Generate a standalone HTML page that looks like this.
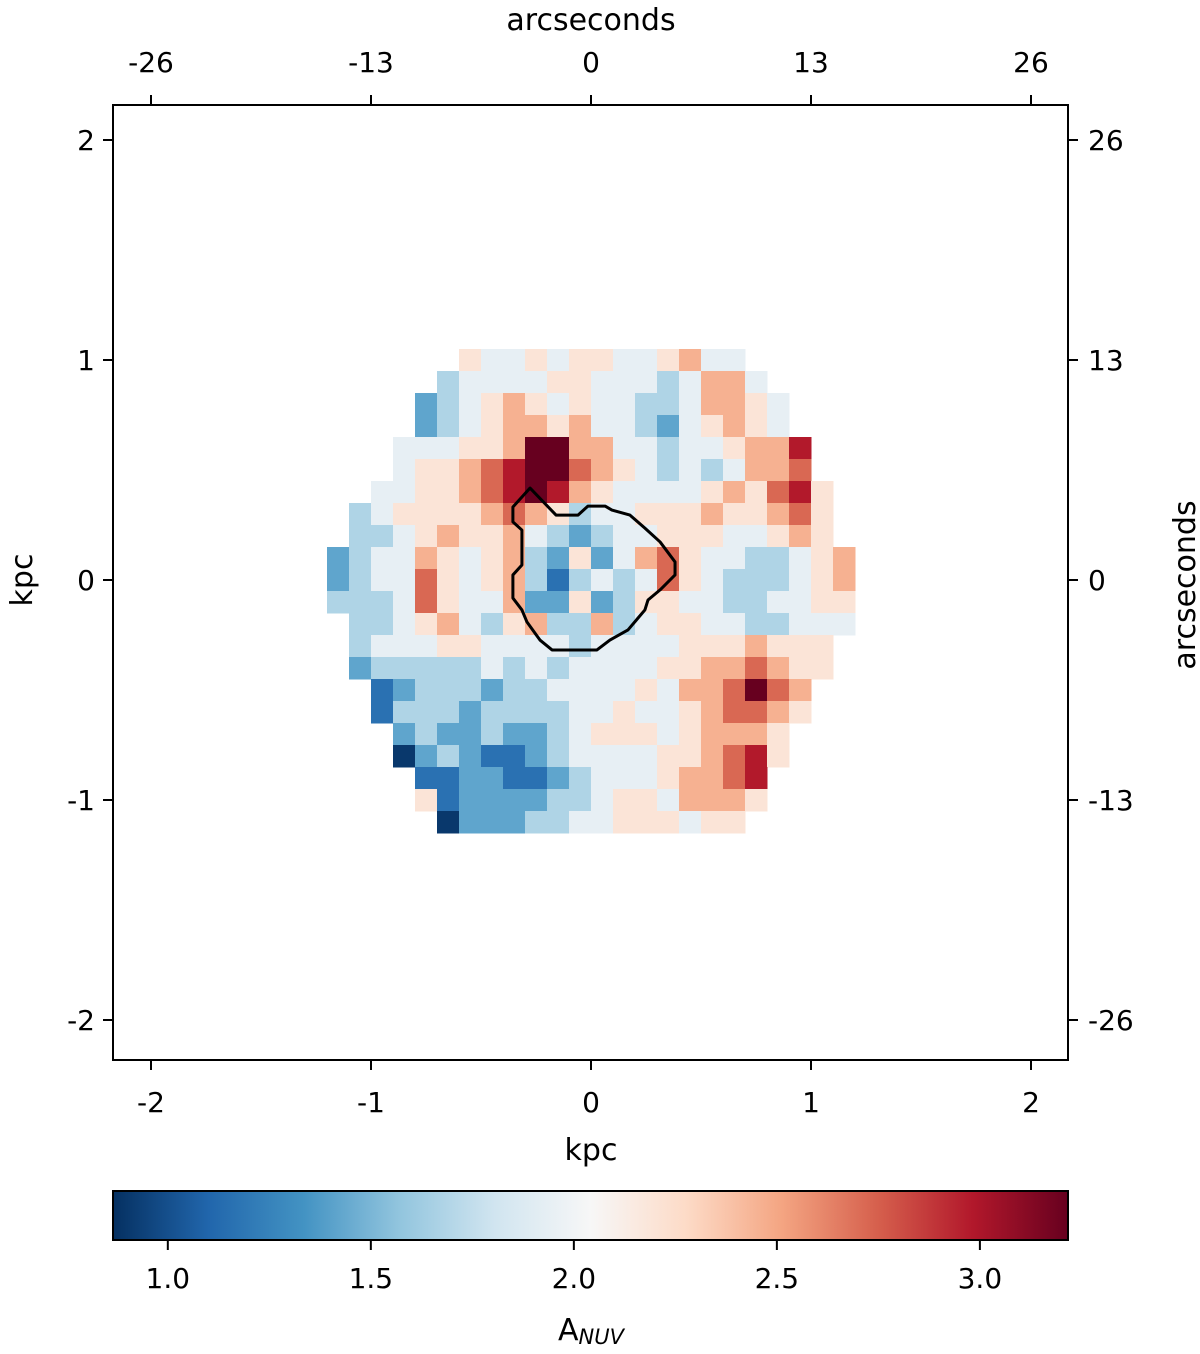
<!DOCTYPE html>
<html><head><meta charset="utf-8"><style>body{margin:0;background:#fff}svg{display:block;font-family:"DejaVu Sans","Liberation Sans",sans-serif}</style></head>
<body>
<svg id="chart" width="1200" height="1354" viewBox="0 0 1200 1354" xmlns="http://www.w3.org/2000/svg">
<g id="cells"></g>
<g id="contour"></g>
<rect x="113" y="105" width="955" height="955" fill="none" stroke="#000" stroke-width="2"/>
<g id="axes" font-size="28" fill="#000"></g>
<text x="591" y="1160" font-size="30" text-anchor="middle">kpc</text>
<text x="591" y="30" font-size="30" text-anchor="middle">arcseconds</text>
<text transform="translate(32,580) rotate(-90)" font-size="30" text-anchor="middle">kpc</text>
<text transform="translate(1195,585) rotate(-90)" font-size="30" text-anchor="middle">arcseconds</text>
<defs><linearGradient id="cmap" x1="0" x2="1" y1="0" y2="0"></linearGradient></defs>
<rect x="113" y="1191" width="955" height="49" fill="url(#cmap)" stroke="#000" stroke-width="2"/>
<g id="cbticks" font-size="28"></g>
<text x="591" y="1340" font-size="30" text-anchor="middle">A<tspan font-size="21" font-style="italic" dy="4">NUV</tspan></text>
</svg>
<script>
const cmapStops = ["#053061","#2166ac","#4393c3","#92c5de","#d1e5f0","#f7f7f7","#fddbc7","#f4a582","#d6604d","#b2182b","#67001f"];
const xTicks = [-2,-1,0,1,2];
const yTicks = [-2,-1,0,1,2];
const arcTickLabels = ["-26","-13","0","13","26"];
const cbTicks = [1.0,1.5,2.0,2.5,3.0];
const vmin = 0.865, vmax = 3.217;
const gridX0 = -1.2, gridY0 = 1.05, cellSize = 0.1;
const levelValues = [0.9,1.16,1.42,1.68,1.94,2.2,2.46,2.72,2.98,3.24];
const gridRows = [
"......5445455445644.....",
".....344445544434664....",
"....23456545443346654...",
"....23456656443245654...",
"...4445569966443445668..",
"...4556789976543434667..",
"..445567898654444565785.",
".3455556765344555655675.",
".3345655643234455544565.",
"234465456325246754433456",
"234475456313434754333456",
"333475446225235544334455",
".33456435633634554433444",
".3444554444344445556555.",
".2333334343444455667655.",
"..12333233444454667976..",
"..13332333344544567765..",
"...232232234555456665...",
"...023211234444556785...",
"....1122112344456678....",
"....5122223345546665....",
".....02223344555455....."
];
const contourX = [-0.277,-0.355,-0.355,-0.314,-0.314,-0.355,-0.355,-0.314,-0.291,-0.232,-0.177,0.027,0.086,0.168,0.245,0.259,0.314,0.382,0.382,0.314,0.245,0.177,0.095,0.064,-0.014,-0.059,-0.159];
const contourY = [0.418,0.332,0.264,0.227,0.068,0.023,-0.082,-0.136,-0.191,-0.273,-0.318,-0.318,-0.273,-0.227,-0.136,-0.091,-0.045,0.023,0.082,0.173,0.236,0.295,0.318,0.336,0.336,0.295,0.295];

const NS="http://www.w3.org/2000/svg";
const sx = v => 591 + 220*v;
const sy = v => 580 - 220*v;
const cbx = v => 113 + (v-vmin)/(vmax-vmin)*955;
function hex(c){return [1,3,5].map(i=>parseInt(c.substr(i,2),16));}
function color(v){
  let t=Math.max(0,Math.min(1,(v-vmin)/(vmax-vmin)))*10;
  let i=Math.min(9,Math.floor(t)), f=t-i;
  let a=hex(cmapStops[i]), b=hex(cmapStops[i+1]);
  return "rgb("+a.map((x,k)=>Math.round(x+(b[k]-x)*f)).join(",")+")";
}
function mk(tag,attrs,parent){const e=document.createElementNS(NS,tag);for(const k in attrs)e.setAttribute(k,attrs[k]);parent.appendChild(e);return e;}
const cells=document.getElementById("cells");
gridRows.forEach((row,j)=>{
  [...row].forEach((ch,i)=>{
    if(ch===".")return;
    const v=levelValues[+ch];
    const x0=gridX0+i*cellSize, y0=gridY0-j*cellSize;
    const r=mk("rect",{x:sx(x0),y:sy(y0),width:sx(x0+cellSize)-sx(x0)+0.5,height:sy(y0-cellSize)-sy(y0)+0.5,fill:color(v)},cells);
    
    
  });
});
const pts=contourX.map((x,k)=>sx(x)+","+sy(contourY[k])).join(" ");
const pg=mk("polygon",{points:pts,fill:"none",stroke:"#000","stroke-width":3,"stroke-linejoin":"round"},document.getElementById("contour"));


const ax=document.getElementById("axes");
xTicks.forEach((v,k)=>{
  const x=sx(v);
  mk("line",{x1:x,x2:x,y1:1060,y2:1070,stroke:"#000","stroke-width":2},ax);
  mk("line",{x1:x,x2:x,y1:105,y2:95,stroke:"#000","stroke-width":2},ax);
  const t=mk("text",{x:x,y:1112,"text-anchor":"middle"},ax);t.textContent=String(v);
  
  
  const t2=mk("text",{x:x,y:72,"text-anchor":"middle"},ax);t2.textContent=arcTickLabels[k];
  
  
});
yTicks.forEach((v,k)=>{
  const y=sy(v);
  mk("line",{x1:113,x2:103,y1:y,y2:y,stroke:"#000","stroke-width":2},ax);
  mk("line",{x1:1068,x2:1078,y1:y,y2:y,stroke:"#000","stroke-width":2},ax);
  const t=mk("text",{x:95,y:y+10,"text-anchor":"end"},ax);t.textContent=String(v);
  
  
  const t2=mk("text",{x:1088,y:y+10,"text-anchor":"start"},ax);t2.textContent=arcTickLabels[k];
  
  
});
const grad=document.getElementById("cmap");
cmapStops.forEach((c,k)=>mk("stop",{offset:(k*10)+"%","stop-color":c},grad));
const cbt=document.getElementById("cbticks");
cbTicks.forEach(v=>{
  const x=cbx(v);
  mk("line",{x1:x,x2:x,y1:1240,y2:1250,stroke:"#000","stroke-width":2},cbt);
  const t=mk("text",{x:x,y:1288,"text-anchor":"middle"},cbt);t.textContent=v.toFixed(1);
  
  
});
</script>
</body></html>
